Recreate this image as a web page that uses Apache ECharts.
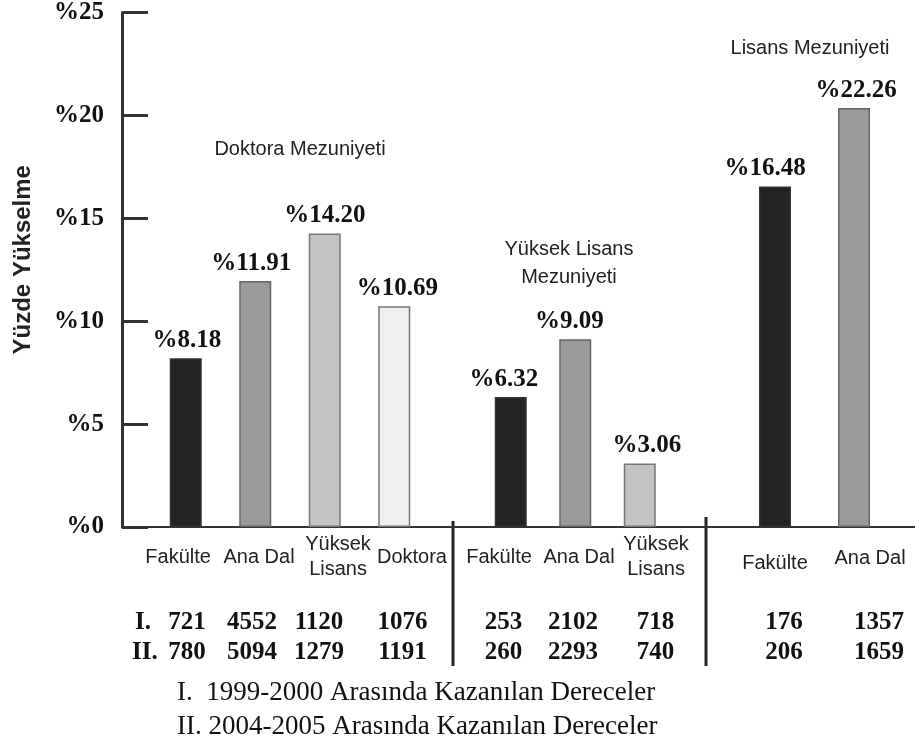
<!DOCTYPE html>
<html><head><meta charset="utf-8">
<script src="https://cdn.jsdelivr.net/npm/echarts@6/dist/echarts.min.js"></script>
<style>html,body{margin:0;padding:0;background:#fff}#c{width:915px;height:747px}</style>
</head><body><div id="c"></div>
<script>
// ---------- data ----------
const yTitle = 'Yüzde Yükselme';
const groupNames = ['Doktora Mezuniyeti', 'Yüksek Lisans\nMezuniyeti', 'Lisans Mezuniyeti'];
const cats1 = ['Fakülte', 'Ana Dal', 'Yüksek\nLisans', 'Doktora'];
const cats2 = ['Fakülte', 'Ana Dal', 'Yüksek\nLisans'];
const cats3 = ['Fakülte', 'Ana Dal'];
const bars1 = [8.18, 11.92, 14.22, 10.70];
const bars2 = [6.30, 9.10, 3.08];
const bars3 = [16.50, 20.30];
const labels1 = ['%8.18', '%11.91', '%14.20', '%10.69'];
const labels2 = ['%6.32', '%9.09', '%3.06'];
const labels3 = ['%16.48', '%22.26'];
const counts1 = [721, 4552, 1120, 1076, 253, 2102, 718, 176, 1357];
const counts2 = [780, 5094, 1279, 1191, 260, 2293, 740, 206, 1659];
const rowLabels = ['I.', 'II.'];
const footnotes = ['I.  1999-2000 Arasında Kazanılan Dereceler', 'II. 2004-2005 Arasında Kazanılan Dereceler'];
const yMin = 0, yMax = 25, yStep = 5;

// ---------- layout & style ----------
const SERIF = '"Liberation Serif", "Times New Roman", serif';
const SANS = '"Liberation Sans", Arial, sans-serif';
const fills = {'Fakülte': '#232323', 'Ana Dal': '#9a9a9a', 'Yüksek\nLisans': '#c3c3c3', 'Doktora': '#efefef'};
const borders = {'Fakülte': '#333333', 'Ana Dal': '#666666', 'Yüksek\nLisans': '#777777', 'Doktora': '#777777'};
const TOP = 11, BOTTOM = 220;
const gridBoxes = [
  {left: 151, width: 278},
  {left: 478.5, width: 193.5},
  {left: 735.5, width: 158}
];
const catShift = [[-7.6, 3.8, 13.3, 17.7], [-11.7, 3.8, 16.3], [0, 16]];
const catTop = [[12.5, 12.5, 0, 12.5], [12.5, 12.5, 0], [18.5, 13.5]];
const valShift = [[1, -4, 0, 3], [-7, -6, 7], [-10, 2]];
const colX = [187, 252, 319, 402.5, 503.5, 573, 655.5, 784, 879];
const rowY = [623, 653];
const rowLabelX = [135, 132];

const catsAll = [cats1, cats2, cats3];
const barsAll = [bars1, bars2, bars3];
const labelsAll = [labels1, labels2, labels3];

const grid = [{left: 122, right: 0, top: TOP, bottom: BOTTOM}].concat(
  gridBoxes.map(b => ({left: b.left, width: b.width, top: TOP, bottom: BOTTOM})));

const xAxis = [{
  gridIndex: 0, type: 'value', min: 0, max: 1,
  axisLine: {show: true, onZero: false, lineStyle: {color: '#333', width: 2}},
  axisTick: {show: false}, axisLabel: {show: false}, splitLine: {show: false}
}].concat(catsAll.map((cats, g) => ({
  gridIndex: g + 1, type: 'category',
  data: cats.map((c, i) => {
    const d = catShift[g][i];
    return {value: c, textStyle: {padding: [catTop[g][i], d < 0 ? -2 * d : 0, 0, d > 0 ? 2 * d : 0]}};
  }),
  axisLine: {show: false}, axisTick: {show: false}, splitLine: {show: false},
  axisLabel: {interval: 0, margin: 5, fontFamily: SANS, fontSize: 20, color: '#222', lineHeight: 25}
})));

const yAxis = [{
  gridIndex: 0, type: 'value', min: yMin, max: yMax, interval: yStep,
  axisLine: {show: true, lineStyle: {color: '#333', width: 3}},
  axisTick: {show: true, inside: true, length: 26, lineStyle: {color: '#333', width: 3}},
  axisLabel: {formatter: v => '%' + v, fontFamily: SERIF, fontWeight: 'bold', fontSize: 25, color: '#111', margin: 18},
  splitLine: {show: false},
  name: yTitle, nameLocation: 'middle', nameGap: 87, nameRotate: 90,
  nameTextStyle: {fontFamily: SANS, fontWeight: 'bold', fontSize: 24, color: '#222', padding: [0, 0, 0, 20]}
}].concat([1, 2, 3].map(g => ({
  gridIndex: g, type: 'value', min: yMin, max: yMax, interval: yStep, show: false
})));

const series = catsAll.map((cats, g) => ({
  type: 'bar', xAxisIndex: g + 1, yAxisIndex: g + 1, barWidth: 32,
  data: barsAll[g].map((v, i) => ({
    value: v,
    itemStyle: {color: fills[cats[i]], borderColor: borders[cats[i]], borderWidth: 1.5},
    label: {offset: [valShift[g][i], 0]}
  })),
  label: {
    show: true, position: 'top', distance: 5,
    formatter: p => labelsAll[g][p.dataIndex],
    fontFamily: SERIF, fontWeight: 'bold', fontSize: 25, color: '#111'
  },
  silent: true, animation: false
}));

const graphic = [];
// group titles
graphic.push({type: 'text', x: 300, y: 149, style: {text: groupNames[0], font: '20px ' + SANS, fill: '#222', align: 'center', verticalAlign: 'middle'}});
graphic.push({type: 'text', x: 569, y: 263, style: {text: groupNames[1], font: '20px ' + SANS, fill: '#222', align: 'center', verticalAlign: 'middle', lineHeight: 28}});
graphic.push({type: 'text', x: 810, y: 48, style: {text: groupNames[2], font: '20px ' + SANS, fill: '#222', align: 'center', verticalAlign: 'middle'}});
// separators
graphic.push({type: 'line', shape: {x1: 453, y1: 521, x2: 453, y2: 666}, style: {stroke: '#222', lineWidth: 3}});
graphic.push({type: 'line', shape: {x1: 706, y1: 517, x2: 706, y2: 666}, style: {stroke: '#222', lineWidth: 3}});
// table rows
[counts1, counts2].forEach((row, r) => {
  graphic.push({type: 'text', x: rowLabelX[r], y: rowY[r], style: {text: rowLabels[r], font: 'bold 25px ' + SERIF, fill: '#111', align: 'left', verticalAlign: 'middle'}});
  row.forEach((v, i) => {
    graphic.push({type: 'text', x: colX[i], y: rowY[r], style: {text: String(v), font: 'bold 25px ' + SERIF, fill: '#111', align: 'center', verticalAlign: 'middle'}});
  });
});
// footnotes
footnotes.forEach((t, i) => {
  graphic.push({type: 'text', x: 177, y: 693 + i * 34, style: {text: t, font: '27px ' + SERIF, fill: '#111', align: 'left', verticalAlign: 'middle'}});
});

const chart = echarts.init(document.getElementById('c'), null, {renderer: 'canvas'});
chart.setOption({animation: false, backgroundColor: '#fff', grid, xAxis, yAxis, series, graphic});
</script>
</body></html>
